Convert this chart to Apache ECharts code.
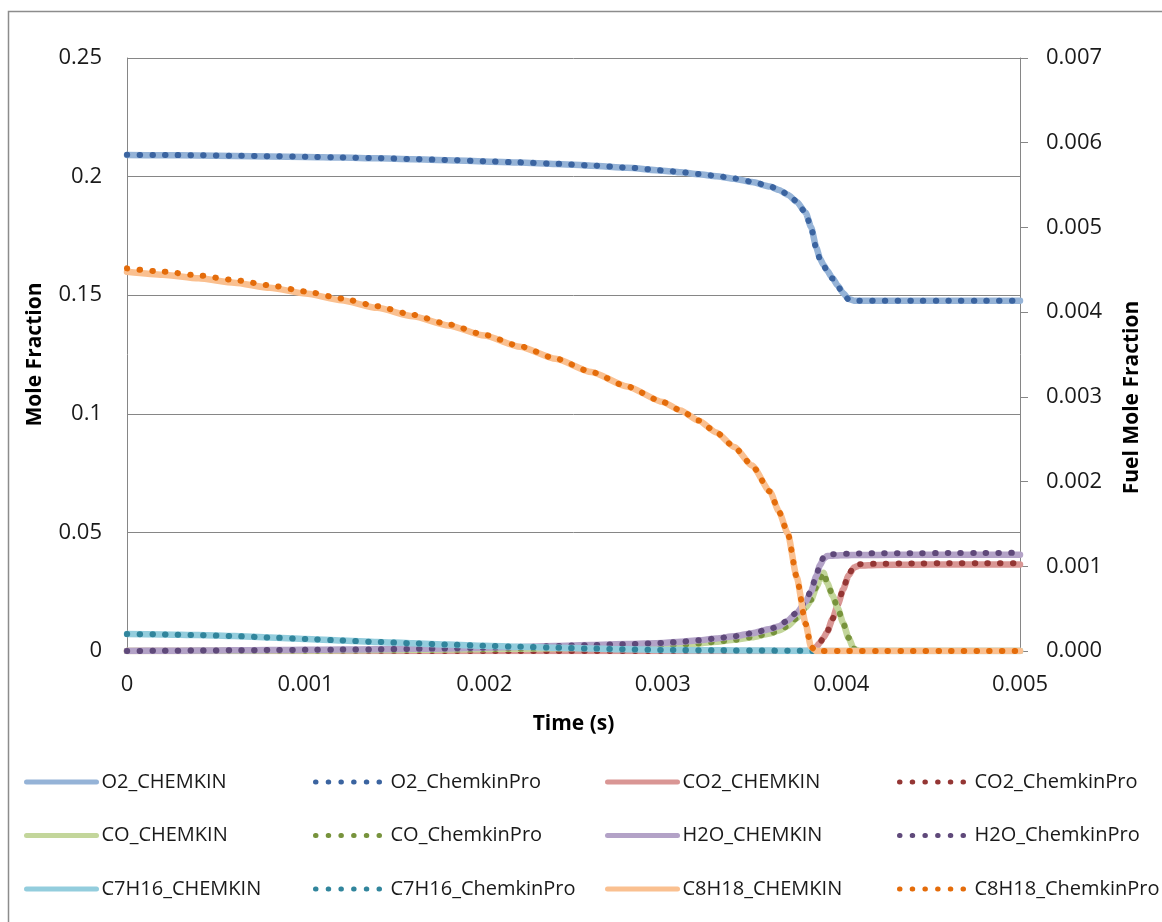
<!DOCTYPE html>
<html>
<head>
<meta charset="utf-8">
<title>Mole Fraction vs Time</title>
<script src="https://cdn.jsdelivr.net/npm/echarts@6/dist/echarts.min.js"></script>
<style>
  html, body { margin: 0; padding: 0; background: #ffffff; }
  #chart { width: 1162px; height: 922px; }
</style>
</head>
<body>
<div id="chart"></div>
<script>
// Time points (s)
const time = [0, 0.0002, 0.0004, 0.0006, 0.0008, 0.0010, 0.0012, 0.0014, 0.0016, 0.0018,
  0.0020, 0.0022, 0.0024, 0.0026, 0.0028, 0.0030, 0.0031, 0.0032, 0.0033, 0.0034,
  0.0035, 0.0036, 0.00365, 0.0037, 0.00375, 0.0038, 0.00383, 0.00386, 0.00388, 0.0039,
  0.00392, 0.00395, 0.00398, 0.00401, 0.00404, 0.00407, 0.0041, 0.0042, 0.0044, 0.0046,
  0.0048, 0.0050];

// Mole fractions (left axis)
const o2Chemkin = [0.2091, 0.2090, 0.2089, 0.2087, 0.2085, 0.2083, 0.2080, 0.2077, 0.2073, 0.2069,
  0.2064, 0.2059, 0.2053, 0.2046, 0.2037, 0.2025, 0.2018, 0.2010, 0.2002, 0.1991,
  0.1977, 0.1958, 0.1944, 0.1924, 0.1894, 0.1848, 0.1788, 0.1700, 0.1655, 0.1627,
  0.1604, 0.1572, 0.1540, 0.1508, 0.1484, 0.1477, 0.1477, 0.1477, 0.1477, 0.1477,
  0.1477, 0.1477];
const o2Pro = [0.2092, 0.2091, 0.2090, 0.2088, 0.2086, 0.2084, 0.2081, 0.2078, 0.2074, 0.2070,
  0.2065, 0.2060, 0.2054, 0.2047, 0.2038, 0.2026, 0.2019, 0.2011, 0.2003, 0.1992,
  0.1978, 0.1959, 0.1945, 0.1925, 0.1895, 0.1846, 0.1786, 0.1695, 0.1652, 0.1625,
  0.1602, 0.1570, 0.1538, 0.1506, 0.1482, 0.1477, 0.1477, 0.1477, 0.1477, 0.1477,
  0.1477, 0.1477];

const co2Chemkin = [0, 0, 0, 0, 0, 0, 0, 0, 0, 0,
  0, 0, 0, 0, 0, 0, 0, 0, 0, 0,
  0, 0, 0, 0, 0, 0, 0.0003, 0.0018, 0.0036, 0.0056,
  0.0080, 0.0135, 0.0195, 0.0260, 0.0318, 0.0352, 0.0360, 0.0363, 0.0364, 0.0365,
  0.0365, 0.0365];
const co2Pro = [0, 0, 0, 0, 0, 0, 0, 0, 0, 0,
  0, 0, 0, 0, 0, 0, 0, 0, 0, 0,
  0, 0, 0, 0, 0, 0, 0.0003, 0.0018, 0.0036, 0.0056,
  0.0080, 0.0135, 0.0195, 0.0262, 0.0322, 0.0357, 0.0366, 0.0368, 0.0369, 0.0370,
  0.0370, 0.0370];

const coChemkin = [0, 0, 0.0001, 0.0001, 0.0002, 0.0002, 0.0003, 0.0004, 0.0005, 0.0006,
  0.0008, 0.0010, 0.0012, 0.0014, 0.0018, 0.0023, 0.0027, 0.0032, 0.0039, 0.0047,
  0.0058, 0.0074, 0.0086, 0.0105, 0.0138, 0.0183, 0.0214, 0.0268, 0.0300, 0.0330,
  0.0288, 0.0234, 0.0180, 0.0118, 0.0055, 0.0008, 0, 0, 0, 0,
  0, 0];
const coPro = [0, 0, 0.0001, 0.0001, 0.0002, 0.0002, 0.0003, 0.0004, 0.0005, 0.0006,
  0.0008, 0.0010, 0.0012, 0.0014, 0.0018, 0.0023, 0.0027, 0.0032, 0.0039, 0.0047,
  0.0058, 0.0074, 0.0086, 0.0105, 0.0138, 0.0183, 0.0216, 0.0270, 0.0303, 0.0333,
  0.0290, 0.0235, 0.0180, 0.0118, 0.0056, 0.0010, 0, 0, 0, 0,
  0, 0];

const h2oChemkin = [0, 0.0001, 0.0002, 0.0003, 0.0004, 0.0005, 0.0006, 0.0007, 0.0009, 0.0011,
  0.0014, 0.0017, 0.0021, 0.0025, 0.0029, 0.0034, 0.0039, 0.0045, 0.0053, 0.0062,
  0.0075, 0.0093, 0.0104, 0.0128, 0.0160, 0.0208, 0.0250, 0.0317, 0.0362, 0.0388,
  0.0400, 0.0402, 0.0403, 0.0404, 0.0404, 0.0405, 0.0405, 0.0405, 0.0406, 0.0406,
  0.0406, 0.0406];
const h2oPro = [0, 0.0001, 0.0002, 0.0003, 0.0004, 0.0005, 0.0006, 0.0007, 0.0009, 0.0011,
  0.0014, 0.0017, 0.0021, 0.0025, 0.0029, 0.0034, 0.0039, 0.0045, 0.0053, 0.0062,
  0.0075, 0.0093, 0.0105, 0.0130, 0.0163, 0.0210, 0.0255, 0.0320, 0.0365, 0.0395,
  0.0406, 0.0408, 0.0409, 0.0410, 0.0410, 0.0411, 0.0411, 0.0412, 0.0412, 0.0413,
  0.0413, 0.0414];

// Fuel mole fractions (right axis)
const c7h16Chemkin = [0.000200, 0.000196, 0.000188, 0.000176, 0.000160, 0.000142, 0.000124, 0.000107, 0.000091, 0.000076,
  0.000062, 0.000050, 0.000039, 0.000029, 0.000020, 0.000013, 0.000011, 0.000009, 0.000008, 0.000007,
  0.000006, 0.000005, 0.000004, 0.000004, 0.000003, 0.000002, 0.000001, 0, 0, 0,
  0, 0, 0, 0, 0, 0, 0, 0, 0, 0,
  0, 0];
const c7h16Pro = [0.000200, 0.000196, 0.000188, 0.000176, 0.000160, 0.000142, 0.000124, 0.000107, 0.000091, 0.000076,
  0.000062, 0.000050, 0.000039, 0.000029, 0.000020, 0.000013, 0.000011, 0.000009, 0.000008, 0.000007,
  0.000006, 0.000005, 0.000004, 0.000004, 0.000003, 0.000002, 0.000001, 0, 0, 0,
  0, 0, 0, 0, 0, 0, 0, 0, 0, 0,
  0, 0];

const c8h18Chemkin = [0.004477, 0.004442, 0.004399, 0.004348, 0.004288, 0.004219, 0.004140, 0.004051, 0.003952, 0.003843,
  0.003723, 0.003592, 0.003449, 0.003293, 0.003123, 0.002939, 0.002839, 0.002721, 0.002580, 0.002408,
  0.002190, 0.001883, 0.001647, 0.001387, 0.000870, 0.000320, 0.000047, 0, 0, 0,
  0, 0, 0, 0, 0, 0, 0, 0, 0, 0,
  0, 0];
const c8h18Pro = [0.004517, 0.004479, 0.004433, 0.004379, 0.004316, 0.004244, 0.004162, 0.004070, 0.003968, 0.003856,
  0.003733, 0.003598, 0.003452, 0.003293, 0.003123, 0.002939, 0.002839, 0.002721, 0.002580, 0.002408,
  0.002190, 0.001883, 0.001647, 0.001387, 0.000870, 0.000320, 0.000047, 0, 0, 0,
  0, 0, 0, 0, 0, 0, 0, 0, 0, 0,
  0, 0];

// Axis tick labels
const xTickLabels = ['0', '0.001', '0.002', '0.003', '0.004', '0.005'];
const leftTickLabels = ['0', '0.05', '0.1', '0.15', '0.2', '0.25'];
const rightTickLabels = ['0.000', '0.001', '0.002', '0.003', '0.004', '0.005', '0.006', '0.007'];

const FONT = '"Open Sans", "Liberation Sans", sans-serif';

function pairs(values) {
  return time.map((t, i) => [t, values[i]]);
}

function solid(name, values, color, axis) {
  return {
    type: 'line', name, yAxisIndex: axis, data: pairs(values),
    symbol: 'none', smooth: 0.2, smoothMonotone: 'x',
    lineStyle: { width: 6.5, color, cap: 'round', join: 'round' },
    itemStyle: { color }
  };
}

function dotted(name, values, color, axis) {
  return {
    type: 'line', name, yAxisIndex: axis, data: pairs(values),
    symbol: 'none', smooth: 0.2, smoothMonotone: 'x',
    lineStyle: { width: 6, color, type: [0.5, 12.2], cap: 'round', join: 'round' },
    itemStyle: { color }
  };
}

const series = [
  solid('O2_CHEMKIN', o2Chemkin, '#95b3d7', 0),
  dotted('O2_ChemkinPro', o2Pro, '#3b64a0', 0),
  solid('CO2_CHEMKIN', co2Chemkin, '#d99694', 0),
  dotted('CO2_ChemkinPro', co2Pro, '#943634', 0),
  solid('CO_CHEMKIN', coChemkin, '#c3d69b', 0),
  dotted('CO_ChemkinPro', coPro, '#77933c', 0),
  solid('H2O_CHEMKIN', h2oChemkin, '#b3a2c7', 0),
  dotted('H2O_ChemkinPro', h2oPro, '#5f497a', 0),
  solid('C7H16_CHEMKIN', c7h16Chemkin, '#93cddd', 1),
  dotted('C7H16_ChemkinPro', c7h16Pro, '#31859c', 1),
  solid('C8H18_CHEMKIN', c8h18Chemkin, '#fac090', 1),
  dotted('C8H18_ChemkinPro', c8h18Pro, '#e46c0a', 1)
];

// Four legend columns, three rows each; the line sample only, no marker
function legendColumn(left, names) {
  return {
    orient: 'vertical', left, top: 765,
    itemWidth: 70, itemHeight: 14, itemGap: 29.5,
    selectedMode: false,
    itemStyle: { opacity: 0 },
    lineStyle: { width: 5 },
    textStyle: { fontFamily: FONT, fontSize: 20, color: '#1a1a1a', lineHeight: 24 },
    data: names
  };
}

const chart = echarts.init(document.getElementById('chart'), null, { renderer: 'canvas' });

chart.setOption({
  animation: false,
  backgroundColor: '#ffffff',
  grid: { left: 127, right: 142, top: 58, bottom: 271, containLabel: false },
  graphic: [{
    type: 'rect', silent: true, z: -10,
    shape: { x: 8.5, y: 11.5, width: 1170, height: 930 },
    style: { fill: null, stroke: '#8c8c8c', lineWidth: 1.5 }
  }],
  legend: [
    legendColumn(19, ['O2_CHEMKIN', 'CO_CHEMKIN', 'C7H16_CHEMKIN']),
    legendColumn(308, ['O2_ChemkinPro', 'CO_ChemkinPro', 'C7H16_ChemkinPro']),
    legendColumn(600, ['CO2_CHEMKIN', 'H2O_CHEMKIN', 'C8H18_CHEMKIN']),
    legendColumn(892, ['CO2_ChemkinPro', 'H2O_ChemkinPro', 'C8H18_ChemkinPro'])
  ],
  xAxis: {
    type: 'value', min: 0, max: 0.005, interval: 0.001,
    name: 'Time (s)', nameLocation: 'middle', nameGap: 63,
    nameTextStyle: { fontFamily: FONT, fontSize: 21, fontWeight: 'bold', color: '#000' },
    axisLine: { show: true, onZero: false, lineStyle: { color: '#868686', width: 1 } },
    axisTick: { show: false },
    splitLine: { show: false },
    axisLabel: {
      margin: 23, fontFamily: FONT, fontSize: 22, color: '#1a1a1a',
      formatter: (v) => xTickLabels[Math.round(v / 0.001)]
    }
  },
  yAxis: [{
    type: 'value', position: 'left', min: 0, max: 0.25, interval: 0.05,
    name: 'Mole Fraction', nameLocation: 'middle', nameGap: 81, nameRotate: 90,
    nameTextStyle: { fontFamily: FONT, fontSize: 21, fontWeight: 'bold', color: '#000' },
    axisLine: { show: true, lineStyle: { color: '#868686', width: 1 } },
    axisTick: { show: false },
    splitLine: { show: true, lineStyle: { color: '#868686', width: 1 } },
    axisLabel: {
      margin: 25, fontFamily: FONT, fontSize: 22, color: '#1a1a1a',
      formatter: (v) => leftTickLabels[Math.round(v / 0.05)]
    }
  }, {
    type: 'value', position: 'right', min: 0, max: 0.007, interval: 0.001,
    name: 'Fuel Mole Fraction', nameLocation: 'middle', nameGap: 102, nameRotate: 90,
    nameTextStyle: { fontFamily: FONT, fontSize: 21, fontWeight: 'bold', color: '#000', padding: [0, 86, 0, 0] },
    axisLine: { show: true, lineStyle: { color: '#868686', width: 1 } },
    axisTick: { show: true, inside: false, length: 8, lineStyle: { color: '#868686', width: 1 } },
    splitLine: { show: false },
    axisLabel: {
      margin: 26, fontFamily: FONT, fontSize: 22, color: '#1a1a1a',
      formatter: (v) => rightTickLabels[Math.round(v / 0.001)]
    }
  }],
  series
});
</script>
</body>
</html>
